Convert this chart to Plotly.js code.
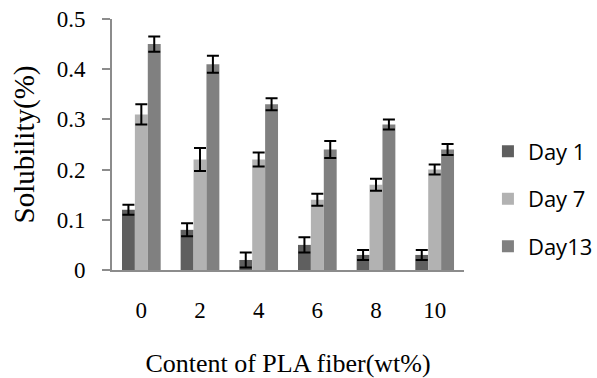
<!DOCTYPE html>
<html>
<head>
<meta charset="utf-8">
<script src="https://cdn.plot.ly/plotly-3.0.1.min.js"></script>
<style>html,body{margin:0;padding:0;background:#fff;}#chart{width:597px;height:378px;}</style>
</head>
<body>
<div id="chart"></div>
<script>
const categories = ['0', '2', '4', '6', '8', '10'];
const seriesNames = ['Day 1', 'Day 7', 'Day13'];
const day1 = [0.12, 0.08, 0.02, 0.05, 0.03, 0.03];
const day7 = [0.31, 0.22, 0.22, 0.14, 0.17, 0.20];
const day13 = [0.45, 0.41, 0.33, 0.24, 0.29, 0.24];
const day1Err = [0.010, 0.013, 0.015, 0.015, 0.010, 0.010];
const day7Err = [0.020, 0.023, 0.014, 0.012, 0.012, 0.010];
const day13Err = [0.015, 0.017, 0.012, 0.017, 0.010, 0.011];
const yTicks = [0, 0.1, 0.2, 0.3, 0.4, 0.5];
const yTickText = ['0', '0.1', '0.2', '0.3', '0.4', '0.5'];

const colors = ['#5f5f5f', '#b2b2b2', '#808080'];
const values = [day1, day7, day13];
const errs = [day1Err, day7Err, day13Err];
const legendIds = ['legend', 'legend2', 'legend3'];
const legendY = [0.472, 0.283, 0.094];

const traces = values.map((v, i) => ({
  type: 'bar',
  name: seriesNames[i],
  legend: legendIds[i],
  x: categories,
  y: v,
  marker: {color: colors[i], line: {width: 0}},
  error_y: {type: 'data', array: errs[i], visible: true, color: '#000', thickness: 2, width: 6}
}));

const serif = 'Liberation Serif, Times New Roman, serif';
const layout = {
  width: 597, height: 378,
  margin: {l: 112, r: 133, t: 19, b: 108, autoexpand: false},
  paper_bgcolor: '#fff', plot_bgcolor: '#fff',
  barmode: 'group',
  bargap: 0.34,
  bargroupgap: 0,
  showlegend: true,
  xaxis: {
    type: 'category',
    range: [-0.5, 5.5],
    showline: true, linecolor: '#8c8c8c', linewidth: 2,
    ticks: '', showgrid: false, zeroline: false,
    tickfont: {family: serif, size: 23, color: '#000'},
    ticklabelstandoff: 18,
    title: {text: 'Content of PLA fiber(wt%)', font: {family: serif, size: 26, color: '#000'}, standoff: 33}
  },
  yaxis: {
    range: [0, 0.5],
    tickvals: yTicks, ticktext: yTickText,
    showline: true, linecolor: '#8c8c8c', linewidth: 2,
    ticks: 'outside', ticklen: 8, tickwidth: 2, tickcolor: '#8c8c8c',
    showgrid: false, zeroline: false,
    tickfont: {family: serif, size: 23, color: '#000'},
    ticklabelstandoff: 12,
    title: {text: 'Solubility(%)', font: {family: serif, size: 29, color: '#000'}, standoff: 14}
  }
};
legendIds.forEach((id, i) => {
  layout[id] = {
    x: 1.068, xanchor: 'left', y: legendY[i], yanchor: 'middle',
    font: {family: 'Open Sans, sans-serif', size: 22, color: '#000'},
    bgcolor: 'rgba(0,0,0,0)'
  };
});

Plotly.newPlot('chart', traces, layout, {displayModeBar: false, staticPlot: true});
</script>
</body>
</html>
